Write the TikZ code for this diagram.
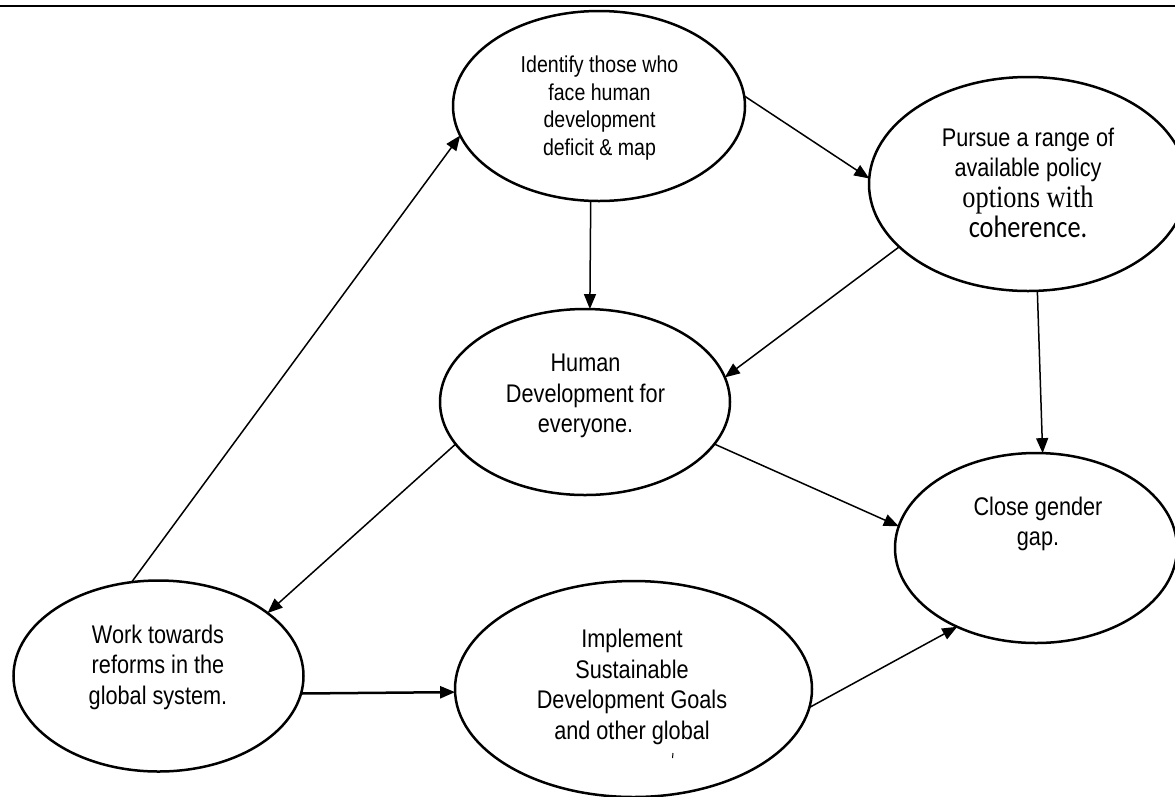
\documentclass[tikz,border=0pt]{standalone}
\usepackage{fontspec}
\setmainfont{Liberation Sans}[FakeStretch=0.85]
\newfontfamily\serifnarrow{Liberation Serif}[FakeStretch=0.85]
\newfontfamily\carlnarrow{Carlito}[FakeStretch=0.85]
\newcommand\tightlines{\setlength{\lineskiplimit}{-20pt}}
\usetikzlibrary{shapes.geometric,arrows.meta}
\begin{document}
\begin{tikzpicture}[x=1pt,y=-1pt,
  ell/.style={draw,ellipse,line width=2.5pt,inner sep=0pt,outer sep=0pt},
  txt/.style={align=center,inner sep=0pt,font=\fontsize{25.5}{30.5}\selectfont\tightlines},
  arr/.style={line width=1.5pt,-{Triangle[length=15pt,width=12pt]}}]
\useasboundingbox (0,0) rectangle (1175,796);
\clip (0,0) rectangle (1175,796);
\draw[line width=2.5pt] (0,6) -- (1175,6);
% ellipses
\node[ell,minimum width=292pt,minimum height=190pt] (ident) at (599,106) {};
\node[ell,minimum width=318pt,minimum height=214pt] (pursue) at (1028,184) {};
\node[ell,minimum width=290pt,minimum height=186pt] (human) at (585,402) {};
\node[ell,minimum width=282pt,minimum height=190pt] (close) at (1036,548) {};
\node[ell,minimum width=290pt,minimum height=191pt] (work) at (158.5,676) {};
\node[ell,minimum width=357pt,minimum height=216pt] (impl) at (633.5,689) {};
% texts
\node[txt,font=\fontsize{23}{27.5}\selectfont\tightlines] (identt) at (599.5,108) {Identify those who\\face human\\development\\deficit \& map};
\node[txt] (pursuet) at (1028,183) {Pursue a range of\\available policy\\\serifnarrow\fontsize{31}{30.5}\selectfont options with\\\carlnarrow\fontsize{31}{30.5}\selectfont coherence.};
\node[txt] (humant) at (585.5,396) {Human\\Development for\\everyone.};
\node[txt] (closet) at (1038,524) {Close gender\\gap.};
\node[txt] (workt) at (158,667) {Work towards\\reforms in the\\global system.};
\node[txt] (implt) at (632,687) {Implement\\Sustainable\\Development Goals\\and other global};
\draw[line width=1pt] (673,753) -- (672.5,758);
% arrows
\draw[arr] (ident.4) -- (pursue.178);
\draw[arr] (pursue.206) -- (human.10);
\draw[arr] (ident.265) -- (human.87);
\draw[arr] (pursue.275) -- (close.86);
\draw[arr] (human.342) -- (close.171);
\draw[arr] (human.198) -- (work.30);
\draw[arr] (work.106) -- (ident.192);
\draw[arr,line width=2.5pt] (work.353) -- (impl.181);
\draw[arr] (impl.354) -- (close.225);
\end{tikzpicture}
\end{document}
